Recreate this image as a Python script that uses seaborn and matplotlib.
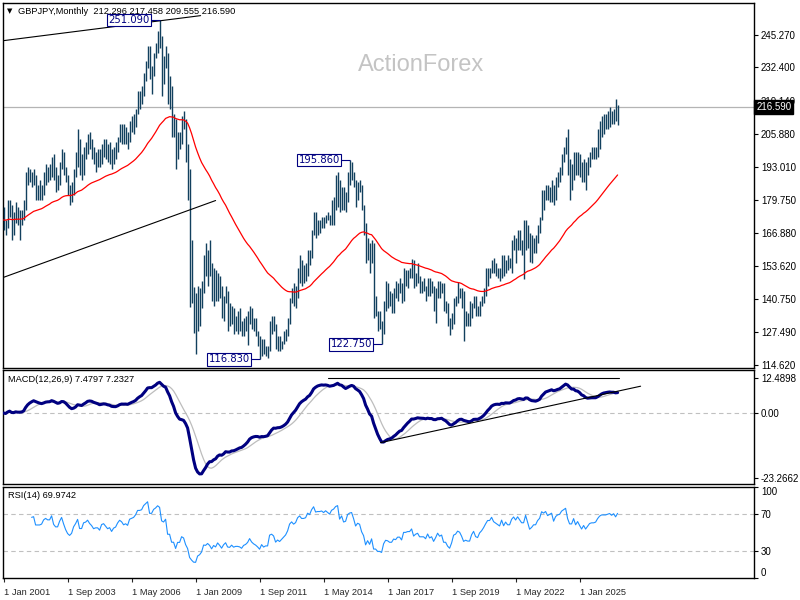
import numpy as np
import pandas as pd
import matplotlib
matplotlib.use('Agg')
import matplotlib.pyplot as plt
import matplotlib.transforms as mtrans
import seaborn as sns

sns.set_style('white')
plt.rcParams['font.family'] = ['Liberation Sans', 'DejaVu Sans']

# GBPJPY monthly bars, Jan 2001 .. Aug 2026, one row per year
bar_high = [
    177, 172, 180, 180, 178, 175, 179, 177, 176, 176, 180, 191,      # 2001
    193, 192, 191, 192, 190, 186, 188, 186, 191, 194, 193, 194,      # 2002
    197, 198, 193, 190, 195, 200, 199, 193, 190, 186, 187, 192,      # 2003
    199, 208, 204, 198, 201, 203, 206, 207, 204, 201, 199, 200,      # 2004
    200, 202, 204, 204, 202, 203, 200, 201, 203, 205, 210, 210,      # 2005
    210, 209, 207, 211, 213, 214, 216, 223, 223, 225, 230, 235,      # 2006
    241, 241, 233, 238, 242, 247, 251.09, 245, 237, 241, 238, 229,   # 2007
    225, 214, 212, 207, 207, 213, 215, 212, 202, 192, 164, 145.5,    # 2008
    143, 146, 145, 148, 158, 163, 160, 164, 155, 153, 152, 151,      # 2009
    150, 146, 142, 146, 144, 139, 138, 137, 134, 136, 137, 132,      # 2010
    133, 134, 136, 138, 137, 133, 133, 128, 126, 125, 125, 122,      # 2011
    122, 132, 134, 134, 131, 126, 126, 124, 128, 129, 133, 141,      # 2012
    145, 147, 146, 153, 158, 156, 154, 155, 160, 160, 168, 175,      # 2013
    175, 172, 172, 173, 173, 174, 175, 174, 180, 181, 190, 191,      # 2014
    188, 185, 185, 183, 191, 195.86, 195, 191, 188, 187, 188, 186,   # 2015
    178, 171, 165, 163, 164, 163, 142, 136, 136, 132, 140, 148,      # 2016
    147, 144, 143, 145, 148, 147, 149, 147, 153, 152, 152, 153,      # 2017
    156.6, 156, 151, 155, 150, 148, 149, 146, 149, 149, 148, 146,    # 2018
    145, 148, 148, 147, 147, 140, 139, 133, 135, 141, 142, 147.5,    # 2019
    145, 145, 144, 136, 135, 140, 139, 142, 142, 138, 140, 142,      # 2020
    145, 153, 153, 153, 156, 157, 155, 153, 153, 158, 158, 156,      # 2021
    158, 157, 164, 166, 165, 168, 168, 164, 172, 172, 170, 167,      # 2022
    166, 165, 166, 170, 173, 184, 184, 186, 186, 185, 188, 186,      # 2023
    189, 191, 193, 198, 201, 205, 208.1, 196, 194, 199, 199, 199,    # 2024
    198, 195, 196, 195, 197, 199, 201, 201, 201, 208, 211, 213,      # 2025
    214, 214, 215, 216.8, 215, 216, 219.8, 217.458,                  # 2026
]
bar_low = [
    168, 166, 169, 173, 164, 166, 171, 170, 164, 170, 172, 176,
    186, 187, 185, 186, 180, 180, 180, 180, 182, 186, 187, 188,
    189, 188, 183, 184, 186, 192, 190, 187, 182, 178, 179, 182,
    189, 193, 190, 188, 190, 196, 198, 200, 196, 194, 191, 193,
    193, 194, 197, 196, 195, 194, 192, 194, 196, 199, 203, 202,
    202, 202, 200, 203, 207, 206, 209, 214, 216, 218, 221, 227,
    232, 228, 222, 229, 236, 238, 240, 221, 226, 232, 218, 216,
    205, 205, 192, 196, 200, 202, 208, 195, 180, 137.6, 139, 127.3,
    118.9, 128, 130, 137, 143, 150, 146, 150, 140, 138, 140, 140,
    141, 133, 132, 139, 128, 130, 131, 127, 128, 127, 128, 126,
    126, 128, 122.5, 131, 129, 128, 126, 122, 116.83, 118, 119, 118,
    117.5, 120, 127, 128, 121, 120, 120, 121, 123, 124, 126, 131,
    139, 138, 137, 141, 147, 146, 147, 148, 150, 154, 157, 166,
    165, 166, 167, 169, 169, 171, 172, 170, 170, 170, 176, 177,
    175, 176, 176, 175, 179, 186, 188, 185, 177, 180, 183, 176,
    166, 155, 156, 151, 155, 133, 134, 128, 129, 122.75, 127, 136,
    137, 138, 135, 135, 141, 140, 143, 139, 140, 146, 145, 149,
    149, 145, 146, 147, 143, 143, 144, 140, 142, 142, 143, 136,
    131.4, 141, 141, 143, 136, 135, 130, 126.5, 129, 131, 138, 139,
    141, 137, 124, 130, 130, 130, 133, 137, 134, 134, 134, 138,
    139, 142, 146, 149, 151, 151, 150, 149, 148, 149, 150, 151,
    152, 153, 151, 160, 155, 160, 160, 158, 148.8, 160, 161, 155.4,
    155, 159, 159, 163, 167, 172, 176, 180, 180, 179, 179, 178,
    180, 185, 187, 190, 195, 198, 190, 180, 184, 188, 190, 190,
    189, 187, 187, 184, 190, 193, 196, 196, 196, 197, 200, 205,
    206, 208, 208, 209, 210, 210, 211, 209.555,
]
bar_close = [
    172, 170, 178, 177, 168, 172, 176, 172, 173, 174, 178, 190,
    190, 189, 189, 190, 183, 183, 183, 184, 189, 191, 190, 190,
    195, 189, 187, 187, 193, 198, 193, 188, 184, 182, 184, 191,
    195, 201, 192, 192, 200, 201, 204, 201, 199, 196, 197, 197,
    195, 201, 202, 200, 198, 199, 196, 199, 200, 204, 207, 206,
    204, 205, 204, 210, 211, 212, 215, 221, 221, 222, 229, 233,
    238, 231, 231, 238, 241, 246, 245, 235, 234, 238, 222, 222,
    210, 210, 198, 205, 205, 212, 210, 198, 189, 158, 144, 131,
    130, 139, 141, 145, 156, 155, 158, 153, 143, 148, 144, 150,
    144, 136, 141, 144, 133, 132, 135, 130, 131, 131, 130, 127,
    130, 131, 133, 137, 132, 129, 127, 124, 120, 124, 120, 121,
    121, 131, 132, 130, 122, 124, 122, 124, 126, 128, 132, 140,
    143, 141, 143, 150, 153, 151, 151, 152, 159, 158, 167, 174,
    170, 171, 171, 172, 171, 174, 173, 172, 178, 180, 185, 187,
    178, 183, 178, 179, 190, 193, 194, 189, 182, 186, 185, 177,
    172, 157, 162, 155, 162, 138, 138, 131, 131, 128, 139, 144,
    143, 140, 140, 144, 143, 146, 146, 142, 151, 151, 152, 152,
    155, 147, 149, 150, 146, 146, 146, 144, 148, 144, 145, 140,
    143, 147, 144, 145, 137, 137, 132, 129, 133, 140, 141, 144,
    143, 139, 133, 134, 133, 133, 138, 141, 136, 135, 139, 141,
    144, 148, 152, 152, 156, 153, 152, 151, 150, 156, 152, 156,
    154, 154, 160, 163, 161, 165, 163, 161, 161, 170, 165, 159,
    161, 164, 164, 169, 172, 183, 182, 185, 182, 184, 186, 180,
    187, 190, 191, 197, 200, 203, 195, 190, 190, 198, 192, 197,
    193, 189, 194, 190, 194, 198, 199, 199, 200, 205, 209, 211,
    211, 211, 212, 213, 212, 214, 212.296, 216.59,
]

# bars that carry a price label (index, which end)
marked_bars = [(78, 'high'), (128, 'low'), (173, 'high'), (189, 'low')]

# drawn trend lines: ((index, value), (index, value))
price_trendlines = [((0, 243.0), (98.5, 252.9)), ((0, 149.3), (106, 179.7))]
macd_trendlines = [((162, 12.7), (235, 12.7)), ((235, 12.45), (307.5, 12.45)),
                   ((188.5, -10.6), (318.5, 9.6))]

price_ticks = [114.62, 127.49, 140.75, 153.62, 166.88, 179.75, 193.01, 205.88, 219.14, 232.40, 245.27]
macd_ticks = [12.4898, 0.0, -23.2662]
macd_tick_labels = ['12.4898', '0.00', '-23.2662']
rsi_ticks = [100, 70, 30, 0]

n = len(bar_close)
months = pd.date_range('2001-01-01', periods=n, freq='MS')
df = pd.DataFrame({'idx': np.arange(n), 'high': bar_high, 'low': bar_low, 'close': bar_close})

# indicators
df['ma'] = df['close'].ewm(span=55, adjust=False).mean()
ema12 = df['close'].ewm(span=12, adjust=False).mean()
ema26 = df['close'].ewm(span=26, adjust=False).mean()
df['macd'] = ema12 - ema26
df['signal'] = df['macd'].rolling(9).mean()

delta = df['close'].diff().to_numpy()
gain = np.clip(np.nan_to_num(delta), 0, None)
loss = np.clip(-np.nan_to_num(delta), 0, None)
rsi = np.full(n, np.nan)
ag = gain[1:15].mean()
al = loss[1:15].mean()
rsi[14] = 100 - 100 / (1 + ag / al)
for k in range(15, n):
    ag = (ag * 13 + gain[k]) / 14
    al = (al * 13 + loss[k]) / 14
    rsi[k] = 100 - 100 / (1 + ag / al)
df['rsi'] = rsi

bar_col = '#12405e'
fs = 6.7
fs_axis = 7.0
W, H = 800, 600

fig = plt.figure(figsize=(8, 6), dpi=100)
fig.patch.set_facecolor('white')

def px_axes(left, top, right, bottom):
    return fig.add_axes([left / W, 1 - bottom / H, (right - left) / W, (bottom - top) / H])

ax1 = px_axes(3, 3, 754, 368)
ax2 = px_axes(3, 370, 754, 484)
ax3 = px_axes(3, 487, 754, 578)

xlim = (-0.3, 375.2)
for ax in (ax1, ax2, ax3):
    ax.set_facecolor('white')
    ax.set_xlim(*xlim)
    for s in ax.spines.values():
        s.set_color('black')
        s.set_linewidth(1.0)
    ax.yaxis.tick_right()
    ax.tick_params(axis='y', length=3, pad=2, labelsize=fs_axis, colors='black', direction='out', right=True)

# ---- price panel
ax1.set_ylim(113.4, 257.9)
ax1.vlines(df['idx'], df['low'], df['high'], color=bar_col, lw=1.0, zorder=3)
sns.lineplot(data=df, x='idx', y='ma', ax=ax1, color='red', linewidth=0.9, zorder=4)
ax1.axhline(bar_close[-1], color='#b4b4b4', lw=0.9, zorder=1)
for (x0, y0), (x1, y1) in price_trendlines:
    ax1.plot([x0, x1], [y0, y1], color='black', lw=0.8, zorder=5)
for i, side in marked_bars:
    val = df.loc[i, side]
    ax1.hlines(val, i - 4.6, i, color='#000080', lw=0.8, zorder=5)
    ax1.text(i - 4.9, val, '%.3f' % val, ha='right', va='center', fontsize=7.2, color='#000080',
             family='DejaVu Sans',
             bbox=dict(boxstyle='square,pad=0.12', fc='white', ec='#000080', lw=0.8), zorder=6)
ax1.set_yticks(price_ticks)
ax1.set_yticklabels(['%.3f' % t for t in price_ticks])
ax1.set_xticks([])
ax1.set_xlabel('')
ax1.set_ylabel('')
trans = mtrans.blended_transform_factory(ax1.transAxes, ax1.transData)
ax1.text(1.003, bar_close[-1], '%.3f' % bar_close[-1], transform=trans, ha='left', va='center',
         fontsize=fs_axis, color='white', clip_on=False, zorder=10,
         bbox=dict(boxstyle='square,pad=0.2', fc='black', ec='black'))
last_open = bar_close[-2]
ax1.text(15 / 751, 1 - 8 / 365, 'GBPJPY,Monthly  %.3f %.3f %.3f %.3f' % (last_open, bar_high[-1], bar_low[-1], bar_close[-1]),
         transform=ax1.transAxes, ha='left', va='center', fontsize=fs, color='black')
ax1.text(7 / 751, 1 - 8 / 365, '\u25bc', transform=ax1.transAxes, ha='center', va='center',
         fontsize=5, color='black', family='DejaVu Sans')
ax1.text(0.5566, 0.830, 'ActionForex', transform=ax1.transAxes, ha='center', va='center',
         fontsize=17, color='#c4c4c4', zorder=0)

# ---- MACD panel
ax2.set_ylim(-25.4, 15.4)
ax2.axhline(0, color='#c0c0c0', lw=0.8, ls=(0, (4, 3)), zorder=1)
sns.lineplot(data=df, x='idx', y='signal', ax=ax2, color='#bdbdbd', linewidth=0.9, zorder=3)
sns.lineplot(data=df, x='idx', y='macd', ax=ax2, color='#000080', linewidth=2.2, zorder=4)
for (x0, y0), (x1, y1) in macd_trendlines:
    ax2.plot([x0, x1], [y0, y1], color='black', lw=0.8, zorder=5)
ax2.set_yticks(macd_ticks)
ax2.set_yticklabels(macd_tick_labels)
ax2.set_xticks([])
ax2.set_xlabel('')
ax2.set_ylabel('')
ax2.text(5 / 751, 1 - 9 / 114, 'MACD(12,26,9) 7.4797 7.2327', transform=ax2.transAxes,
         ha='left', va='center', fontsize=fs, color='black')

# ---- RSI panel
ax3.set_ylim(0, 100)
for lvl in (70, 30):
    ax3.axhline(lvl, color='#c0c0c0', lw=0.8, ls=(0, (4, 3)), zorder=1)
sns.lineplot(data=df, x='idx', y='rsi', ax=ax3, color='#1e90ff', linewidth=0.8, zorder=3)
ax3.set_yticks(rsi_ticks)
ax3.set_yticklabels([str(t) for t in rsi_ticks])
rl = ax3.get_yticklabels()
rl[0].set_va('top')
rl[-1].set_va('bottom')
ax3.text(5 / 751, 1 - 9 / 91, 'RSI(14) %.4f' % 69.9742, transform=ax3.transAxes,
         ha='left', va='center', fontsize=fs, color='black')
xt = list(range(0, n, 32))
ax3.set_xticks(xt)
ax3.set_xticklabels(['1 ' + months[k].strftime('%b %Y') for k in xt], ha='left')
ax3.tick_params(axis='x', length=3, pad=4, labelsize=fs, direction='out', bottom=True)
ax3.set_xlabel('')
ax3.set_ylabel('')

fig.savefig('out.png', dpi=100, facecolor='white')
